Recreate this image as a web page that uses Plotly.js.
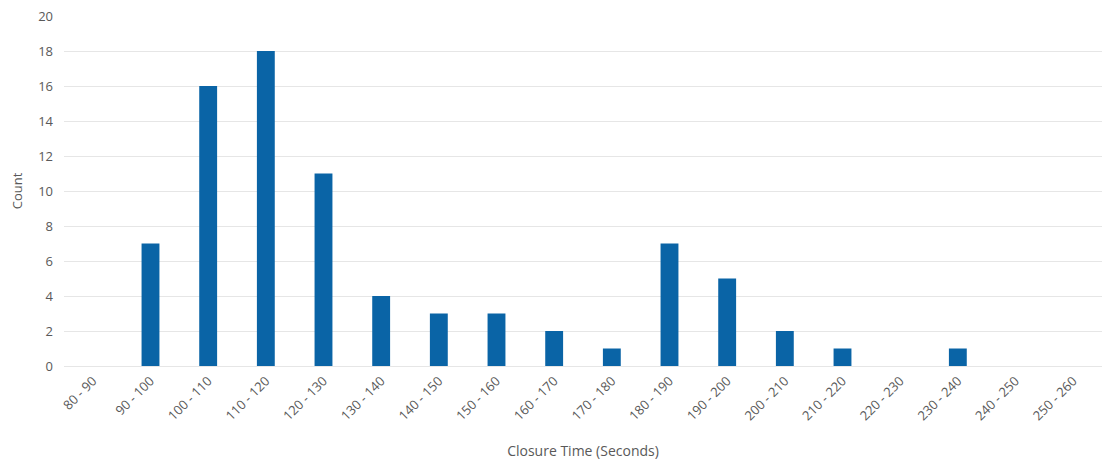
<!DOCTYPE html>
<html>
<head>
<meta charset="utf-8">
<script src="https://cdn.plot.ly/plotly-3.0.1.min.js"></script>
<style>html,body{margin:0;padding:0;background:#fff;}#chart{width:1106px;height:460px;}</style>
</head>
<body>
<div id="chart"></div>
<script>
// Closure time bins (seconds) and the number of closures in each bin
const bins = ["80 - 90","90 - 100","100 - 110","110 - 120","120 - 130","130 - 140","140 - 150","150 - 160","160 - 170","170 - 180","180 - 190","190 - 200","200 - 210","210 - 220","220 - 230","230 - 240","240 - 250","250 - 260"];
const counts = [0,7,16,18,11,4,3,3,2,1,7,5,2,1,0,1,0,0];
const yTicks = [0,2,4,6,8,10,12,14,16,18,20];

const font = {family: "Open Sans, Calibri, sans-serif", color: "#595959"};

Plotly.newPlot("chart", [{
  type: "bar",
  x: bins,
  y: counts,
  marker: {color: "#0A64A6"},
  hoverinfo: "x+y"
}], {
  width: 1106, height: 460,
  margin: {l: 64, r: 4, t: 16, b: 94},
  paper_bgcolor: "#fff", plot_bgcolor: "#fff",
  bargap: 0.69,
  showlegend: false,
  font: Object.assign({size: 12}, font),
  xaxis: {
    type: "category",
    tickangle: -45,
    tickfont: Object.assign({size: 13}, font),
    showgrid: false, zeroline: false, showline: false, ticks: "",
    ticklabelstandoff: 4,
    title: {text: "Closure Time (Seconds)", font: Object.assign({size: 14}, font), standoff: 22}
  },
  yaxis: {
    range: [0, 20],
    tickvals: yTicks,
    ticktext: yTicks.map(String),
    tickfont: Object.assign({size: 13}, font),
    gridcolor: "#E6E6E6", gridwidth: 1,
    zeroline: true, zerolinecolor: "#E6E6E6",
    showline: false, ticks: "",
    ticklabelstandoff: 10,
    title: {text: "Count", font: Object.assign({size: 13}, font), standoff: 12}
  }
}, {displayModeBar: false, staticPlot: true});
</script>
</body>
</html>
